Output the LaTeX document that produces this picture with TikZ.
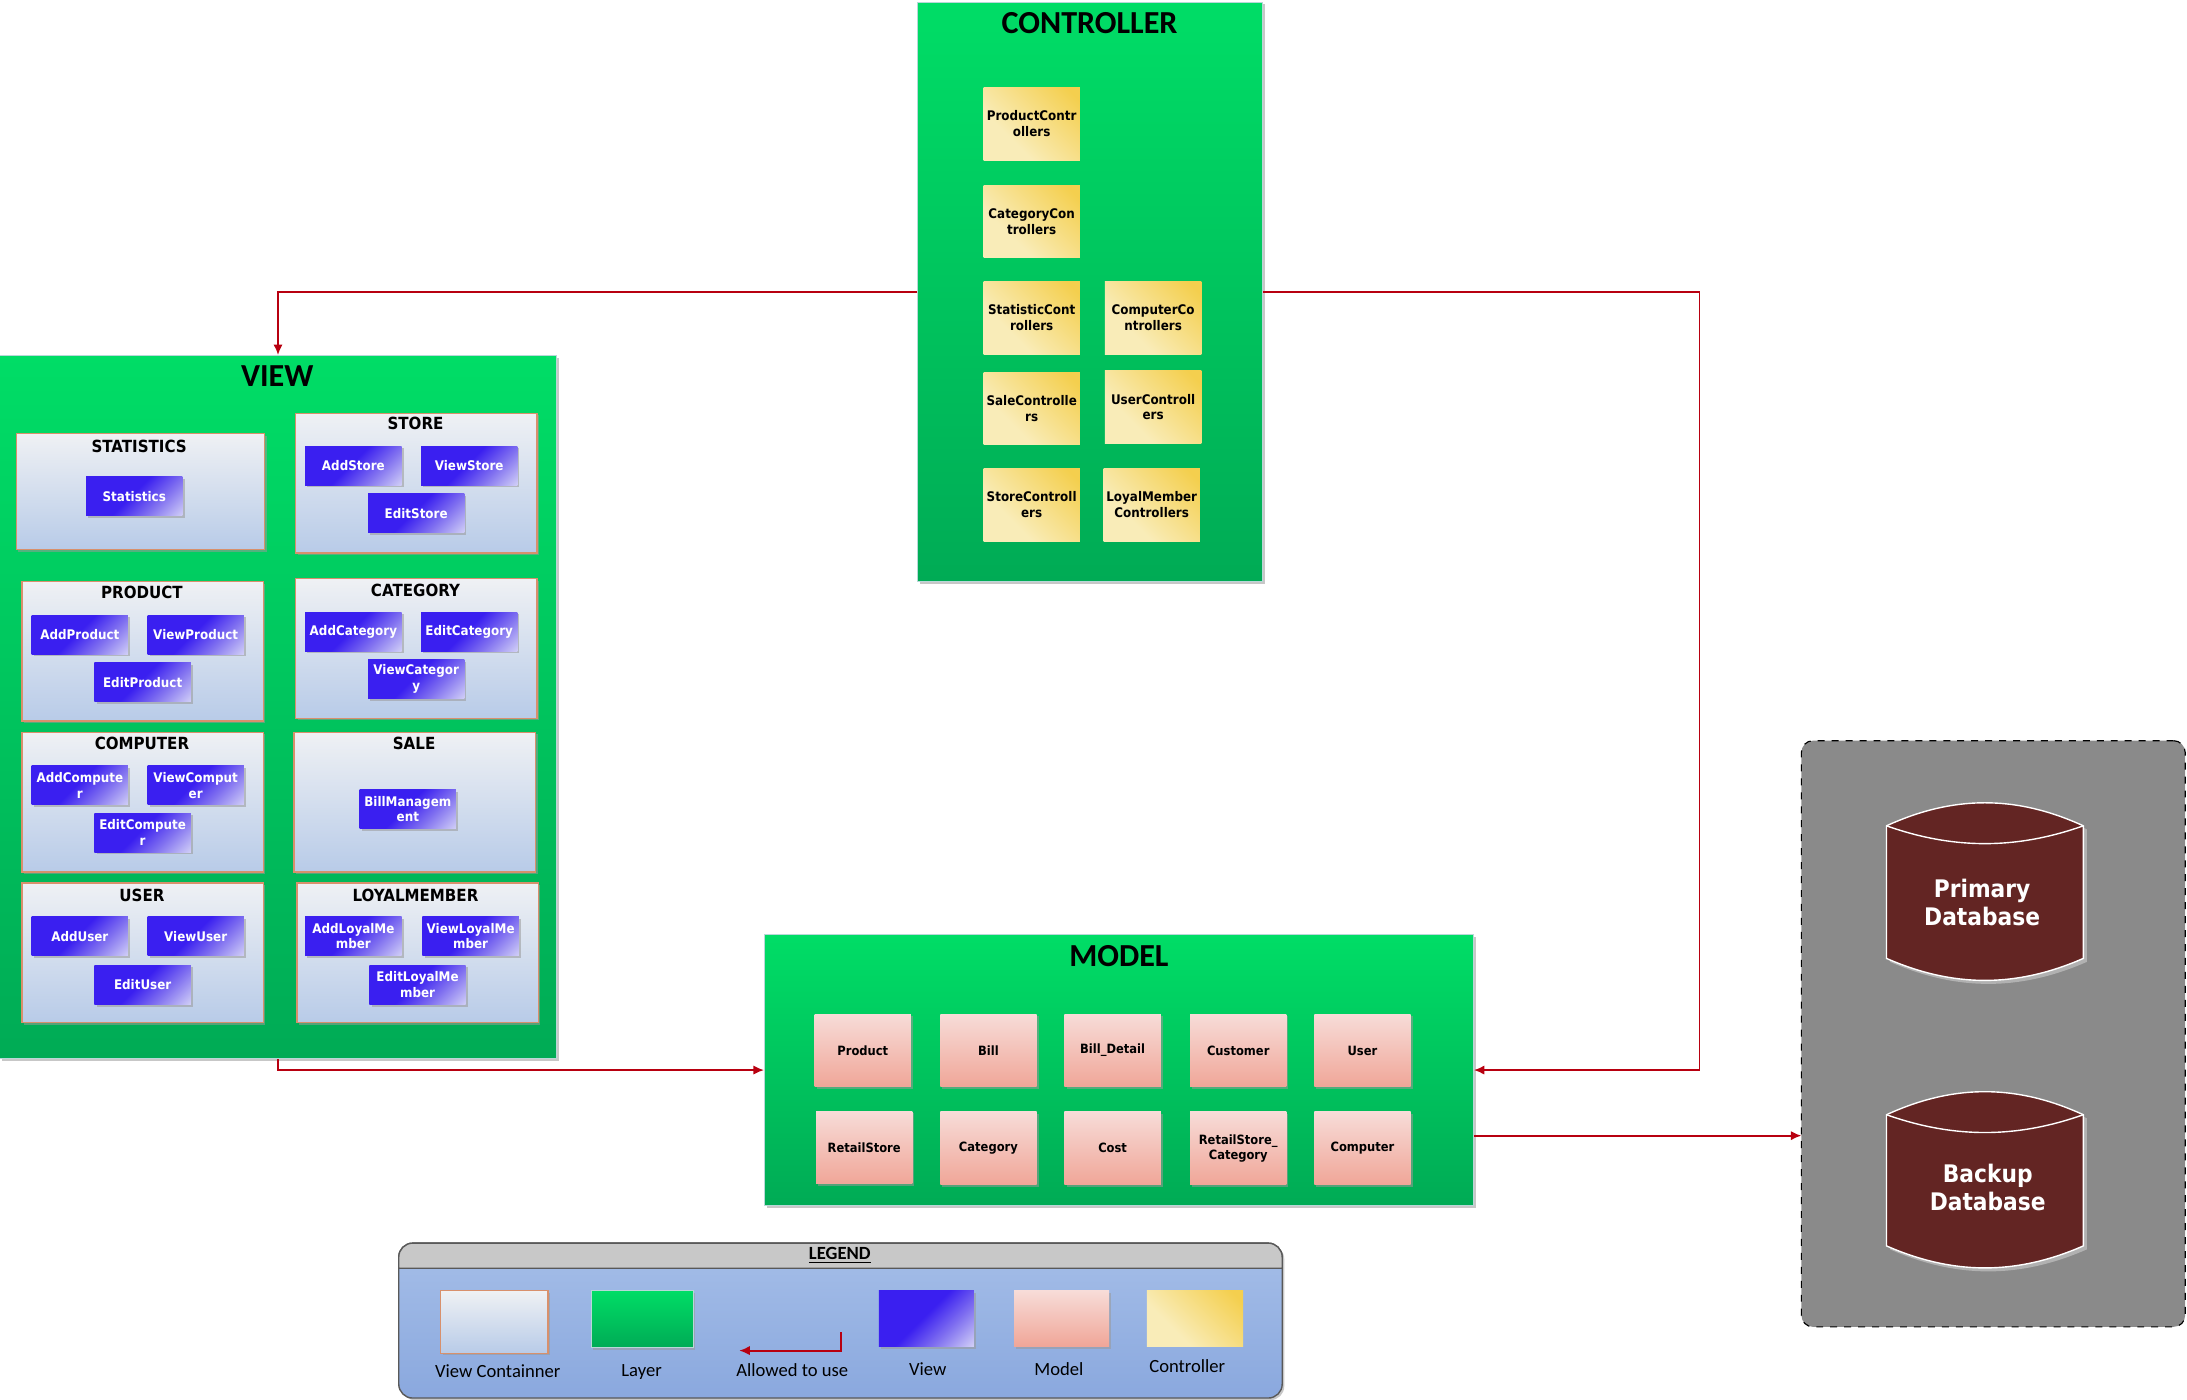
\documentclass[tikz,border=0pt]{standalone}
\usepackage{fontspec}
\setmainfont{Carlito}
\newfontfamily\boxfont[FakeStretch=0.9]{DejaVu Sans}
\usetikzlibrary{arrows.meta,shadows}

\definecolor{allowred}{HTML}{B80010}
\definecolor{layertop}{HTML}{00DD66}
\definecolor{layerbot}{HTML}{00AB55}
\definecolor{viewblue}{HTML}{3A1FF0}
\definecolor{viewmid}{HTML}{8070F0}
\definecolor{viewpale}{HTML}{DCDCF8}
\definecolor{ctrlgold}{HTML}{F4CF4E}
\definecolor{ctrlpale}{HTML}{F9ECB8}
\definecolor{dbred}{HTML}{632523}
\definecolor{holdtop}{HTML}{EFF1F4}
\definecolor{holdbot}{HTML}{B8CBE8}
\definecolor{holdline}{HTML}{D8906C}
\definecolor{modeltop}{HTML}{F7DCD8}
\definecolor{modelbot}{HTML}{F0A698}
\definecolor{legendtop}{HTML}{A5BEE8}
\definecolor{legendbot}{HTML}{8AA8DE}
\definecolor{legendhead}{HTML}{C8C8C8}
\definecolor{layerline}{HTML}{B8D8D8}

\pgfdeclarehorizontalshading{viewshade}{100bp}{color(0bp)=(viewblue); color(48bp)=(viewblue); color(66bp)=(viewmid); color(88bp)=(viewpale); color(100bp)=(viewpale)}
\pgfdeclarehorizontalshading{ctrlshade}{100bp}{color(0bp)=(ctrlpale); color(35bp)=(ctrlpale); color(80bp)=(ctrlgold); color(100bp)=(ctrlgold)}

\tikzset{
	softshadow/.style={drop shadow={shadow xshift=0.9pt,shadow yshift=-0.9pt,fill=black!40,opacity=0.55}},
	layerbox/.style={draw=layerline,line width=0.4pt,top color=layertop,bottom color=layerbot,inner sep=0pt,softshadow},
	layertitle/.style={font=\bfseries\fontsize{13.8}{15}\selectfont,inner sep=0pt},
	container/.style={draw=holdline,line width=0.6pt,top color=holdtop,bottom color=holdbot,inner sep=0pt,minimum width=103.8pt,minimum height=60pt,softshadow},
	containertitle/.style={font=\boxfont\bfseries\fontsize{7.2}{8.5}\selectfont,inner sep=0pt},
	viewbox/.style={shading=viewshade,shading angle=-45,text=white,align=center,inner sep=0pt,minimum width=41.4pt,minimum height=16.8pt,font=\boxfont\bfseries\fontsize{5.7}{6.8}\selectfont,softshadow},
	ctrlbox/.style={shading=ctrlshade,shading angle=45,align=center,inner sep=0pt,minimum width=41.4pt,minimum height=31.2pt,font=\boxfont\bfseries\fontsize{5.7}{6.8}\selectfont},
	modelbox/.style={top color=modeltop,bottom color=modelbot,align=center,inner sep=0pt,minimum width=41.4pt,minimum height=31.2pt,font=\boxfont\bfseries\fontsize{5.5}{6.6}\selectfont,softshadow},
	allowed/.style={draw=allowred,line width=0.8pt,-{Latex[length=4.5pt,width=4pt]}},
	legendtext/.style={inner sep=0pt,font=\fontsize{8}{10}\selectfont},
	dbtext/.style={text=white,align=center,inner sep=0pt,font=\boxfont\bfseries\fontsize{10.4}{12.2}\selectfont},
}

\begin{document}
\begin{tikzpicture}[x=0.6pt,y=-0.6pt]
	\useasboundingbox (0.3,0.3) rectangle (1567.3,1003.4);

	% controller layer
	\node[layerbox,minimum width=148.2pt,minimum height=249pt] (controller) at (781.5,209.5) {};
	\node[layertitle] (controllertitle) at (781,17) {CONTROLLER};
	\node[ctrlbox] (productctrl) at (739.5,89) {ProductContr\\ollers};
	\node[ctrlbox] (categoryctrl) at (739.5,159) {CategoryCon\\trollers};
	\node[ctrlbox] (statisticctrl) at (739.5,228) {StatisticCont\\rollers};
	\node[ctrlbox] (computerctrl) at (826.5,228) {ComputerCo\\ntrollers};
	\node[ctrlbox] (salectrl) at (739.5,293) {SaleControlle\\rs};
	\node[ctrlbox] (userctrl) at (826.5,292) {UserControll\\ers};
	\node[ctrlbox] (storectrl) at (739.5,362) {StoreControll\\ers};
	\node[ctrlbox] (loyalctrl) at (825.5,362) {LoyalMember\\Controllers};

	% view layer
	\node[layerbox,minimum width=239.4pt,minimum height=302.4pt] (view) at (199.5,507) {};
	\node[layertitle] (viewtitle) at (199,270) {VIEW};

	\node[container,minimum width=106.8pt,minimum height=49.8pt] (statistics) at (101,352.5) {};
	\node[containertitle] (statisticstitle) at (100,320) {STATISTICS};
	\node[viewbox] (statisticsbox) at (96.5,356) {Statistics};

	\node[container] (store) at (298.5,346.5) {};
	\node[containertitle] (storetitle) at (298,304) {STORE};
	\node[viewbox] (addstore) at (253.5,334) {AddStore};
	\node[viewbox] (viewstore) at (336.5,334) {ViewStore};
	\node[viewbox] (editstore) at (298.5,368) {EditStore};

	\node[container] (product) at (102.5,467) {};
	\node[containertitle] (producttitle) at (102,425) {PRODUCT};
	\node[viewbox] (addproduct) at (57.5,455) {AddProduct};
	\node[viewbox] (viewproduct) at (140.5,455) {ViewProduct};
	\node[viewbox] (editproduct) at (102.5,489) {EditProduct};

	\node[container] (category) at (298.5,465) {};
	\node[containertitle] (categorytitle) at (298,423) {CATEGORY};
	\node[viewbox] (addcategory) at (253.5,453) {AddCategory};
	\node[viewbox] (editcategory) at (336.5,453) {EditCategory};
	\node[viewbox] (viewcategory) at (298.5,487) {ViewCategor\\y};

	\node[container] (computer) at (102.5,575) {};
	\node[containertitle] (computertitle) at (102,533) {COMPUTER};
	\node[viewbox] (addcomputer) at (57.5,563) {AddCompute\\r};
	\node[viewbox] (viewcomputer) at (140.5,563) {ViewComput\\er};
	\node[viewbox] (editcomputer) at (102.5,597) {EditCompute\\r};

	\node[container] (sale) at (297.5,575) {};
	\node[containertitle] (saletitle) at (297,533) {SALE};
	\node[viewbox] (billbox) at (292.5,580) {BillManagem\\ent};

	\node[container] (user) at (102.5,683) {};
	\node[containertitle] (usertitle) at (102,642) {USER};
	\node[viewbox] (adduser) at (57.5,671) {AddUser};
	\node[viewbox] (viewuser) at (140.5,671) {ViewUser};
	\node[viewbox] (edituser) at (102.5,706) {EditUser};

	\node[container] (loyal) at (299.5,683) {};
	\node[containertitle] (loyaltitle) at (298,642) {LOYALMEMBER};
	\node[viewbox] (addloyal) at (253.5,671) {AddLoyalMe\\mber};
	\node[viewbox] (viewloyal) at (337.5,671) {ViewLoyalMe\\mber};
	\node[viewbox] (editloyal) at (299.5,706) {EditLoyalMe\\mber};

	% model layer
	\node[layerbox,minimum width=304.8pt,minimum height=116.4pt] (model) at (802,767) {};
	\node[layertitle] (modeltitle) at (802,685) {MODEL};
	\node[modelbox] (mproduct) at (618.5,753) {Product};
	\node[modelbox] (mbill) at (708.5,753) {Bill};
	\node[modelbox] (mdetail) at (797.5,753) {Bill\_Detail};
	\node[modelbox] (mcustomer) at (887.5,753) {Customer};
	\node[modelbox] (muser) at (976.5,753) {User};
	\node[modelbox] (mstore) at (619.5,822.5) {RetailStore};
	\node[modelbox] (mcategory) at (708.5,823) {Category};
	\node[modelbox] (mcost) at (797.5,823) {Cost};
	\node[modelbox] (mstorecat) at (887.5,823) {RetailStore\_\\Category};
	\node[modelbox] (mcomputer) at (976.5,823) {Computer};

	% database side
	\node[draw=black,dashed,line width=0.5pt,fill=black!46,rounded corners=5pt,inner sep=0pt,minimum width=165pt,minimum height=252pt] (database) at (1428.5,741) {};
	\draw[draw=white,line width=0.6pt,fill=dbred,drop shadow={shadow xshift=1.5pt,shadow yshift=-1.5pt,fill=black!20,opacity=0.6}]
		(1352,592) .. controls (1400,570) and (1445,570) .. (1493,592) -- (1493,687)
		.. controls (1445,708) and (1400,708) .. (1352,687) -- cycle;
	\draw[draw=white,line width=0.6pt] (1352,592) .. controls (1400,609) and (1445,609) .. (1493,592);
	\node[dbtext] (primary) at (1420.5,647) {Primary\\Database};
	\draw[draw=white,line width=0.6pt,fill=dbred,drop shadow={shadow xshift=1.5pt,shadow yshift=-1.5pt,fill=black!20,opacity=0.6}]
		(1352,799) .. controls (1400,777) and (1445,777) .. (1493,799) -- (1493,893)
		.. controls (1445,914) and (1400,914) .. (1352,893) -- cycle;
	\draw[draw=white,line width=0.6pt] (1352,799) .. controls (1400,816) and (1445,816) .. (1493,799);
	\node[dbtext] (backup) at (1424.5,851) {Backup\\Database};

	% connectors
	\coordinate (bend) at (1218,767);
	\coordinate (dbport) at (1291,814);
	\draw[allowed] (controller.west) -| (view.north);
	\draw[allowed] (controller.east) -| (bend) -- (model.east);
	\draw[allowed] (view.south) |- (model.west);
	\draw[allowed] (model.east |- dbport) -- (dbport);

	% legend
	\node[draw=black!65,line width=0.6pt,top color=legendtop,bottom color=legendbot,rounded corners=6pt,inner sep=0pt,minimum width=379.8pt,minimum height=66.6pt,softshadow] (legend) at (602.5,946.5) {};
	\draw[draw=black!65,line width=0.6pt,fill=legendhead] (286,909) -- (286,901) .. controls (286,895.5) and (290.5,891) .. (296,891) -- (909,891) .. controls (914.5,891) and (919,895.5) .. (919,901) -- (919,909) -- cycle;
	\node[inner sep=0pt,font=\bfseries\fontsize{8}{10}\selectfont] (legendtitle) at (602,900) {\underline{LEGEND}};
	\node[container,minimum width=46.2pt,minimum height=27pt] (keycontainer) at (354.5,947.5) {};
	\node[layerbox,minimum width=43.8pt,minimum height=24.6pt] (keylayer) at (460.5,945.5) {};
	\coordinate (allowstart) at (603,955);
	\coordinate (allowend) at (530,968);
	\draw[allowed] (allowstart) |- (allowend);
	\node[viewbox,minimum width=40.8pt,minimum height=24pt] (keyview) at (664,945) {};
	\node[modelbox,minimum width=40.8pt,minimum height=24pt] (keymodel) at (761,945) {};
	\node[ctrlbox,minimum width=41.4pt,minimum height=24pt] (keyctrl) at (856.5,945) {};
	\node[legendtext] (keycontainertext) at (357,983) {View Containner};
	\node[legendtext] (keylayertext) at (460,983) {Layer};
	\node[legendtext] (keyallowedtext) at (568,982) {Allowed to use};
	\node[legendtext] (keyviewtext) at (665,981) {View};
	\node[legendtext] (keymodeltext) at (759,981) {Model};
	\node[legendtext] (keyctrltext) at (851,979) {Controller};
\end{tikzpicture}
\end{document}
